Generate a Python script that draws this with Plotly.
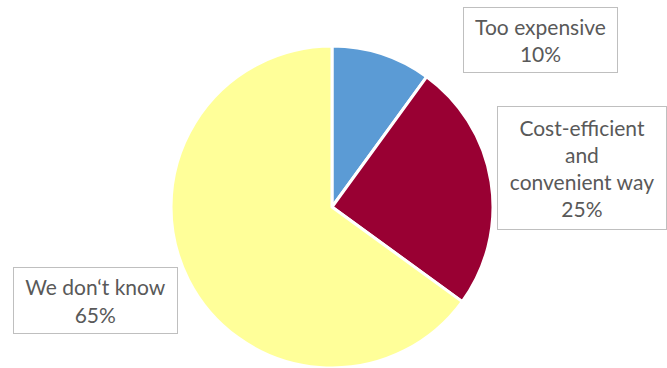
import plotly.graph_objects as go

labels = ["Too expensive", "Cost-efficient and convenient way", "We don‘t know"]
label_text = ["Too expensive<br>10%", "Cost-efficient<br>and<br>convenient way<br>25%", "We don‘t know<br>65%"]
values = [10, 25, 65]
colors = ["#5B9BD5", "#990033", "#FFFF99"]

W, H = 667, 368

fig = go.Figure(go.Pie(
    labels=labels, values=values, sort=False, direction="clockwise", rotation=0,
    marker=dict(colors=colors, line=dict(color="white", width=3)),
    textinfo="none", hoverinfo="label+percent", showlegend=False,
    domain=dict(x=[0.2564, 0.7391], y=[0.0, 0.875]),
))

# label boxes: (center x px, center y px, width, height)
boxes = [(540, 39.5, 153, 64), (581.5, 168.5, 168, 122), (95, 300, 163, 65)]
for txt, (cx, cy, bw, bh) in zip(label_text, boxes):
    fig.add_annotation(
        x=cx / W, y=1 - cy / H, xref="paper", yref="paper",
        xanchor="center", yanchor="middle", text=txt, showarrow=False,
        align="center", valign="middle", width=bw, height=bh,
        bordercolor="#BFBFBF", borderwidth=1, borderpad=0, bgcolor="white",
        font=dict(family="Lato, Carlito, Calibri, sans-serif", size=21, color="#595959"),
    )

fig.update_layout(
    width=W, height=H, margin=dict(l=0, r=0, t=0, b=0),
    paper_bgcolor="white", plot_bgcolor="white",
)
fig.write_html("out.html", config={"displayModeBar": False},
               post_script="document.body.style.margin='0';")
